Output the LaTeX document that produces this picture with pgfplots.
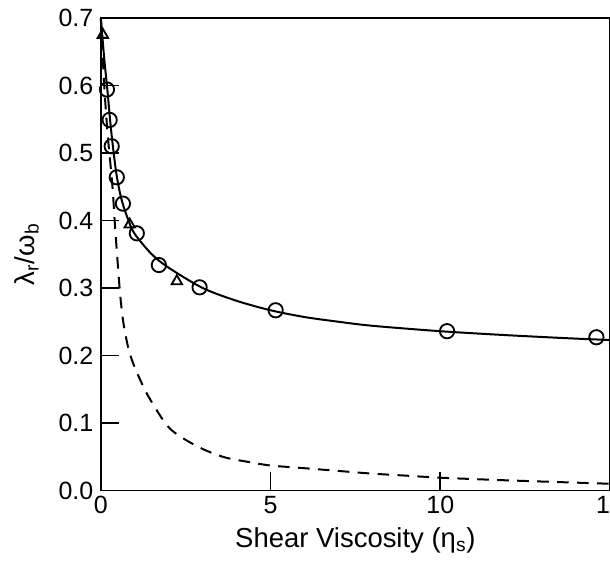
\documentclass[border=0pt]{standalone}
\usepackage{fontspec}
\setmainfont{Liberation Sans}
\usepackage{pgfplots}
\pgfplotsset{compat=1.18}

\begin{document}
\begin{tikzpicture}
\begin{axis}[
  scale only axis,
  width=306pt, height=284pt,
  xmin=0, xmax=15, ymin=0, ymax=0.7,
  xtick={0,5,10,15}, ytick={0,0.1,...,0.7},
  tick pos=left, tick align=inside,
  major tick length=11pt,
  axis line style={line width=1.1pt},
  every tick/.style={line width=1.1pt, black},
  /pgf/number format/assume math mode=true,
  yticklabel style={/pgf/number format/fixed, /pgf/number format/fixed zerofill, /pgf/number format/precision=1, xshift=-1pt},
  ticklabel style={font=\fontsize{15}{17}\selectfont},
  label style={font=\fontsize{16.5}{18}\selectfont},
  xlabel={Shear Viscosity (η\textsubscript{s})},
  ylabel={λ\textsubscript{r}/ω\textsubscript{b}},
  xlabel style={yshift=-1pt},
  ylabel style={yshift=5pt},
  clip=false,
]
% solid curve
\addplot[black, line width=1.2pt, smooth] coordinates {
  (0,0.700) (0.1,0.640) (0.2,0.590) (0.3,0.535) (0.45,0.472) (0.6,0.433)
  (0.8,0.402) (1.0,0.380) (1.5,0.350) (2.0,0.330) (3.0,0.300) (4.0,0.281)
  (5.0,0.267) (6.0,0.257) (7.0,0.250) (8.0,0.244) (10.0,0.236) (12.0,0.230)
  (14.0,0.225) (15.0,0.223)
};
% dashed curve
\addplot[black, line width=1.2pt, smooth, dash pattern=on 7pt off 5pt] coordinates {
  (0,0.700) (0.1,0.600) (0.2,0.528) (0.28,0.485) (0.35,0.445) (0.42,0.390)
  (0.5,0.335) (0.57,0.290) (0.66,0.250) (0.8,0.213) (0.94,0.190) (1.15,0.165)
  (1.44,0.136) (2.03,0.092) (2.82,0.066) (3.59,0.050) (4.38,0.042) (5.0,0.037)
  (5.76,0.034) (7.0,0.029) (8.0,0.025) (9.0,0.022) (10.0,0.019) (12.0,0.015)
  (15.0,0.010)
};
% circles
\addplot[only marks, mark=o, mark size=4.3pt, line width=1.1pt, black, fill=white] coordinates {
  (0.18,0.594) (0.26,0.549) (0.32,0.510) (0.47,0.464) (0.65,0.425)
  (1.06,0.381) (1.71,0.334) (2.91,0.301) (5.15,0.267) (10.2,0.236) (14.6,0.227)
};
% triangles
\addplot[only marks, mark=triangle, mark size=3.6pt, line width=1.1pt, black] coordinates {
  (0.06,0.675) (0.85,0.394) (2.24,0.310)
};
\end{axis}
\pgfresetboundingbox
\useasboundingbox ([xshift=-60.6pt,yshift=-48pt]current axis.south west)
  rectangle ([yshift=10.8pt]current axis.north east);
\end{tikzpicture}
\end{document}
